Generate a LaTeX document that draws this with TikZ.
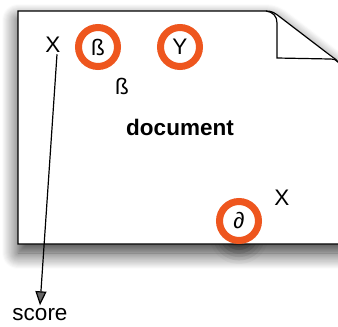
\documentclass[tikz,border=0pt]{standalone}
\usepackage{fontspec}
\setmainfont{Liberation Sans}
\usepackage{tikz}
\usetikzlibrary{arrows.meta,shadows.blur}
\definecolor{ring}{RGB}{238,86,30}

\begin{document}
\begin{tikzpicture}[x=1pt,y=-1pt,font=\fontsize{22.5}{26}\selectfont,
  mark ring/.style={circle,draw=ring,line width=7pt,minimum size=39pt,inner sep=0pt},
  page shadow/.style={blur shadow={shadow xshift=0pt,shadow yshift=-9pt,shadow blur radius=16pt,shadow blur steps=16,shadow opacity=80}}]
\useasboundingbox (0,0) rectangle (338,327);
% darker patch where the lower mark sits on the page edge
\path[blur shadow={shadow xshift=0pt,shadow yshift=-12pt,shadow blur radius=12pt,shadow opacity=50}] (239,222) circle (18);
% the page with its curled corner
\draw[fill=white,line width=1.2pt,page shadow]
  (18,11) -- (266,11) .. controls (272,11) and (275,13) .. (280,17)
  -- (331,56) .. controls (335,59) and (337,60) .. (338,62)
  -- (350,62) -- (350,244) -- (18,244) -- cycle;
\draw[line width=1.2pt,fill=white]
  (266,11) .. controls (273,12) and (277,16) .. (277,23)
  -- (277,58) -- (330,59) .. controls (334,59) and (337,60) .. (338,62);
\node (xtop) at (53,45) {X};
\node[mark ring] (beta) at (98,47) {ß};
\node[mark ring] (ytop) at (180,47) {Y};
\node (betalbl) at (122,86) {ß};
\node[font=\fontsize{22.5}{26}\selectfont\bfseries] (doc) at (180,127) {document};
\node (xbot) at (282,198) {X};
\node[mark ring] (partial) at (239,221) {∂};
\node (score) at (40,315) {score};
\draw[line width=1.2pt,-{Triangle[length=14pt,width=11pt]}] ([xshift=4pt,yshift=2pt]xtop.south) -- (score.north);
\end{tikzpicture}
\end{document}
